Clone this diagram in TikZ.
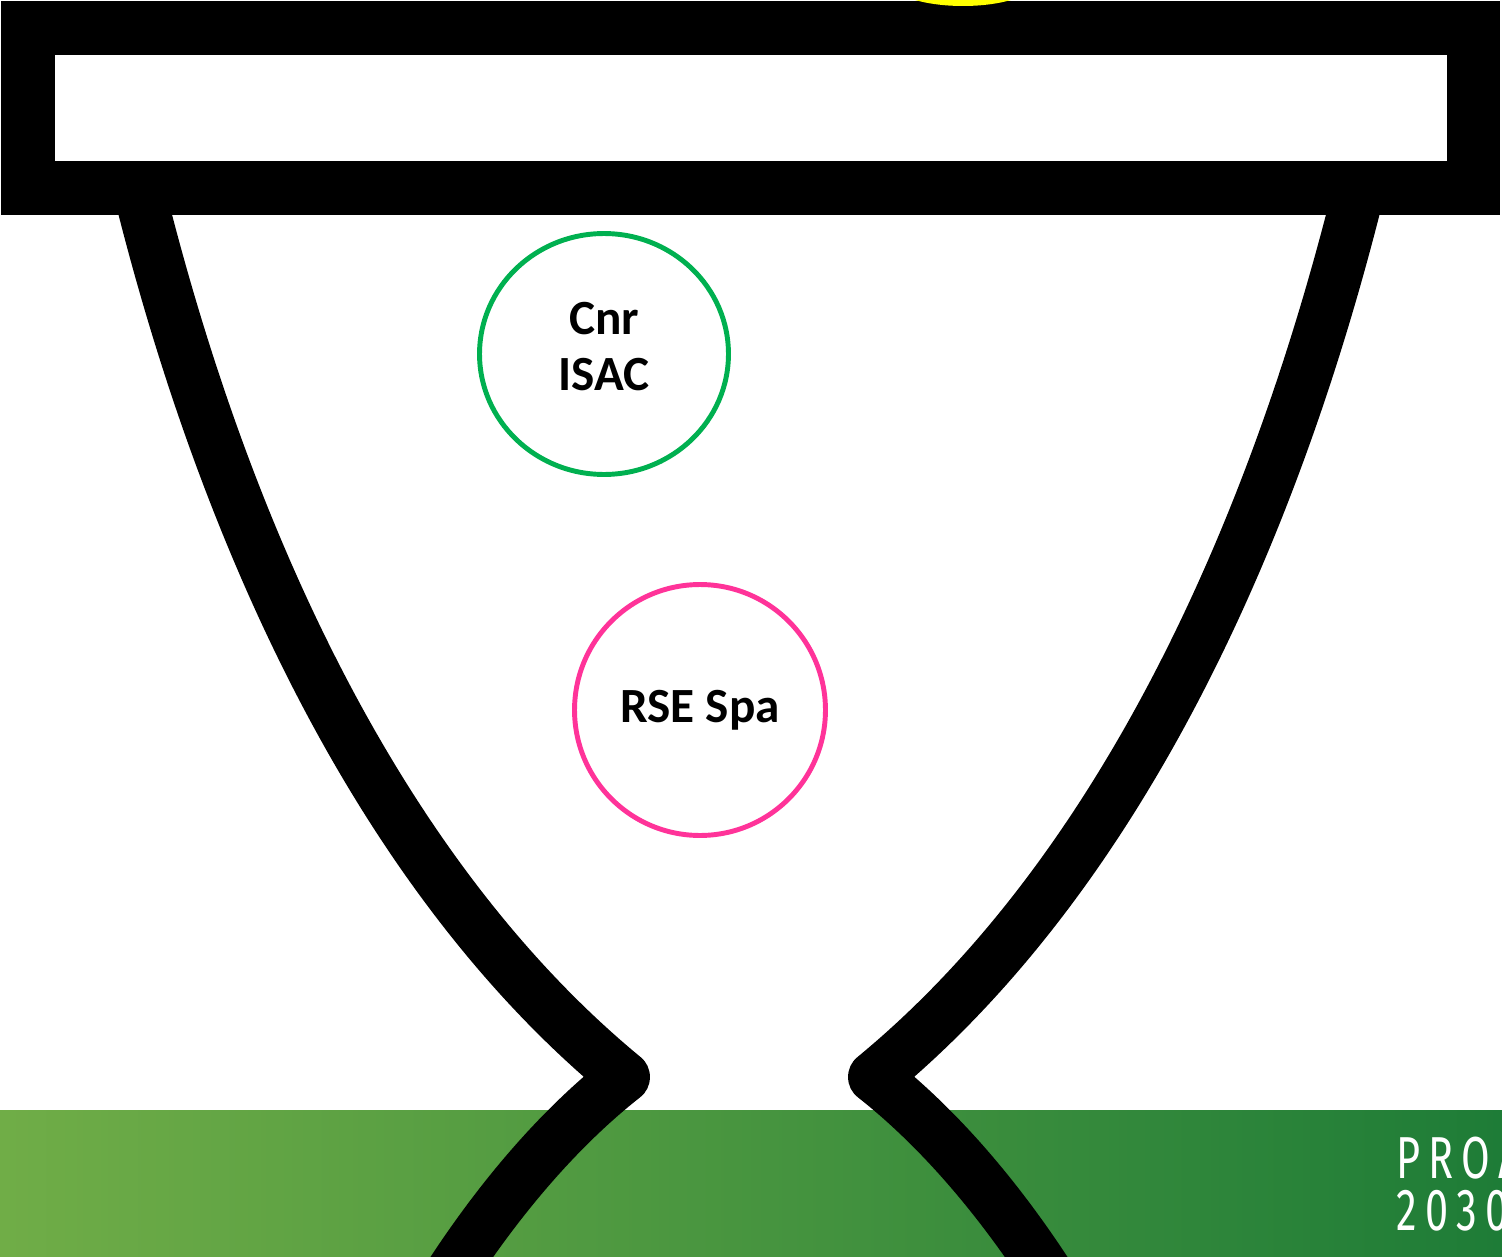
\documentclass[tikz,border=0pt]{standalone}
\usepackage{fontspec}
\setmainfont{Carlito}
\newfontfamily\bannerfont[FakeStretch=0.7,LetterSpace=14]{Fira Sans}
\usetikzlibrary{shapes.geometric}
\definecolor{fgreen}{RGB}{0,176,80}
\definecolor{fpink}{RGB}{255,51,153}
\definecolor{fyellow}{RGB}{255,255,0}
\definecolor{bandleft}{RGB}{112,173,71}
\definecolor{bandright}{RGB}{30,124,55}
\tikzset{
    partner/.style={
        draw=#1,line width=2.8pt,ellipse,inner sep=0pt,
        align=center,font=\fontsize{28}{32}\selectfont\bfseries
    },
    partner/.default=fgreen,
    funnelside/.style={line width=29.5pt,line join=round,draw=black},
    frame/.style={line width=30.6pt,draw=black},
    banner/.style={
        anchor=base west,inner sep=0pt,text=white,
        font=\bannerfont\fontsize{33.7}{36}\selectfont
    }
}

\begin{document}
\begin{tikzpicture}[x=0.02cm,y=-0.02cm]
\useasboundingbox (0,0) rectangle (1502,1257);
\clip (0,0) rectangle (1502,1257);

% green band at the bottom
\shade[left color=bandleft,right color=bandright] (0,1110) rectangle (1502,1257);

% funnel sides
\draw[funnelside] (139,190) .. controls (228,548) and (385,880) .. (624,1077)
    .. controls (563,1125) and (500,1195) .. (440,1290);
\draw[funnelside] (1359,190) .. controls (1270,548) and (1113,880) .. (874,1077)
    .. controls (935,1125) and (998,1195) .. (1058,1290);

% top frame
\draw[frame] (28,28) rectangle (1473.5,188);
\fill[fyellow] (963,-20) ellipse [x radius=1.5cm,y radius=0.52cm];

\node[partner=fgreen,minimum width=4.98cm,minimum height=4.82cm,
text depth=0.3cm]
(isac) at (604,354) {Cnr\\ISAC};

\node[partner=fpink,minimum width=5.02cm,minimum height=5.02cm]
(rse) at (700,710) {RSE Spa};

\node[banner] (pro) at (1396,1178) {PROA};
\node[banner] (year) at (1396,1230) {2030};

\end{tikzpicture}
\end{document}
